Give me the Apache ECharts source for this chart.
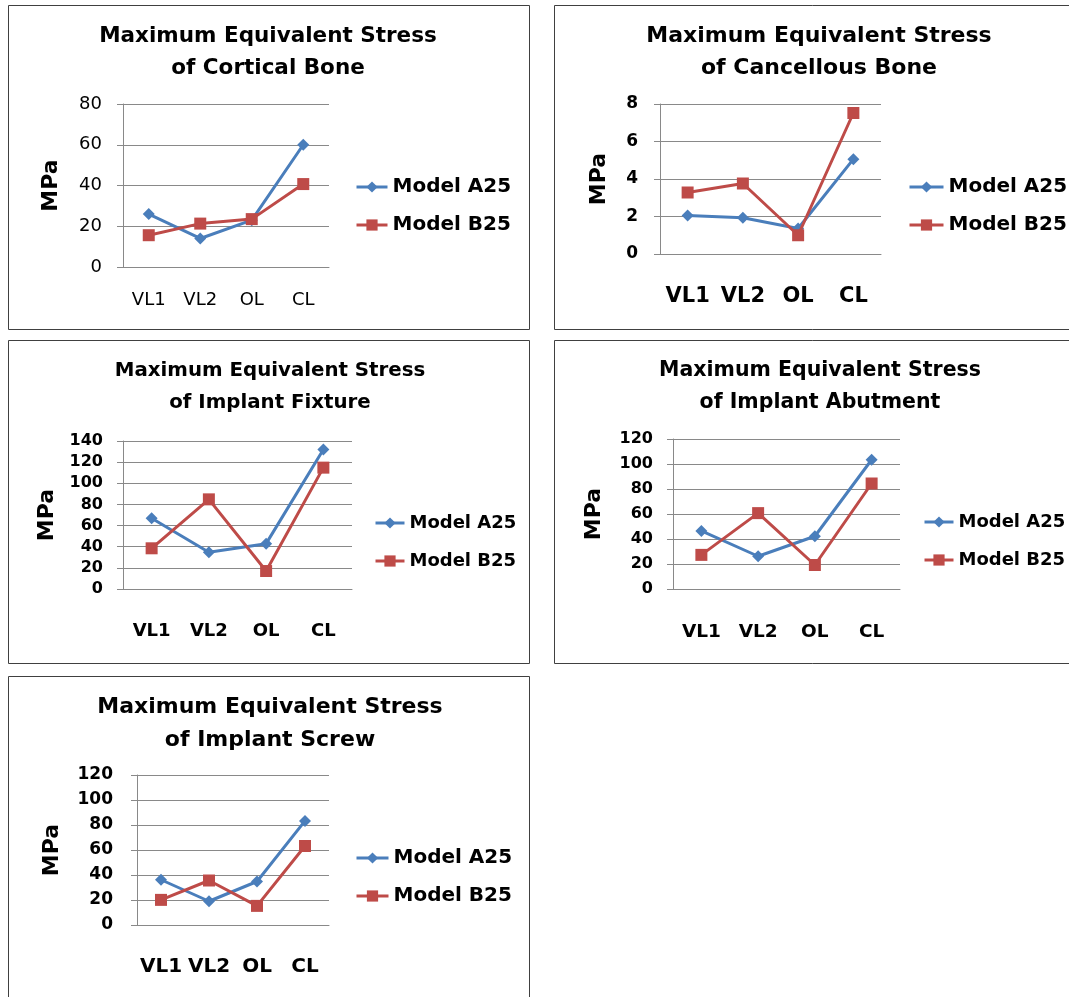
<!DOCTYPE html>
<html>
<head>
<meta charset="utf-8">
<script src="https://cdn.jsdelivr.net/npm/echarts@6/dist/echarts.min.js"></script>
<style>
html,body{margin:0;padding:0;background:#fff;}
#c{width:1069px;height:997px;}
</style>
</head>
<body>
<div id="c"></div>
<script>
const categories = ['VL1', 'VL2', 'OL', 'CL'];
const seriesNames = ['Model A25', 'Model B25'];

const corticalA25 = [26, 14, 23, 60];
const corticalB25 = [15.6, 21.3, 23.5, 40.7];
const cancellousA25 = [2.05, 1.93, 1.36, 5.06];
const cancellousB25 = [3.28, 3.76, 1.0, 7.52];
const fixtureA25 = [66.9, 34.7, 42.9, 132];
const fixtureB25 = [38.5, 84.8, 17, 114.8];
const abutmentA25 = [46.5, 26.2, 42.2, 103.4];
const abutmentB25 = [27.3, 60.7, 19.2, 84.4];
const screwA25 = [36.2, 19, 34.8, 83.3];
const screwB25 = [20.1, 35.6, 15.3, 63.2];

const titles = [
  'Maximum Equivalent Stress\nof Cortical Bone',
  'Maximum Equivalent Stress\nof Cancellous Bone',
  'Maximum Equivalent Stress\nof Implant Fixture',
  'Maximum Equivalent Stress\nof Implant Abutment',
  'Maximum Equivalent Stress\nof Implant Screw'
];
const yMax = [80, 8, 140, 120, 120];
const yInterval = [20, 2, 20, 20, 20];
const yAxisTitle = 'MPa';

const dataA = [corticalA25, cancellousA25, fixtureA25, abutmentA25, screwA25];
const dataB = [corticalB25, cancellousB25, fixtureB25, abutmentB25, screwB25];

const FONT = 'DejaVu Sans';
const BLUE = '#4A7EBB';
const RED = '#BE4B48';
const GRID = '#898989';

// layout per panel
const panels = [
  {box:[8.5,5.5,521,324], grid:[123,104,206,163], title:[268,20,21.5,32], tickBold:false, tickSize:18, catBold:false, catSize:18, catMargin:24, labMargin:21, nameGap:61, legend:[355,177,20,31]},
  {box:[554.5,5.5,600,324], grid:[660,104,221,150], title:[819,20,22,32], tickBold:true, tickSize:17, catBold:true, catSize:21, catMargin:32, labMargin:22, nameGap:50, legend:[908,177,20,34]},
  {box:[8.5,340.5,521,323], grid:[123,441,229,148], title:[270,355,19.8,32], tickBold:true, tickSize:16, catBold:true, catSize:18, catMargin:33, labMargin:20, nameGap:65, legend:[374,513,18,29]},
  {box:[554.5,340.5,600,323], grid:[673,439,227,150], title:[820,355,20.5,32], tickBold:true, tickSize:16, catBold:true, catSize:18.5, catMargin:34, labMargin:20, nameGap:68, legend:[923,512,18,29]},
  {box:[8.5,676.5,521,400], grid:[137,775,192,150], title:[270,691,22,33], tickBold:true, tickSize:17, catBold:true, catSize:20, catMargin:32, labMargin:24, nameGap:74, legend:[355,848,20,32]}
];

const grid = [], xAxis = [], yAxis = [], series = [], legend = [], graphic = [];
panels.forEach((p, i) => {
  graphic.push({type:'rect', shape:{x:p.box[0], y:p.box[1], width:p.box[2], height:p.box[3]}, style:{fill:'none', stroke:'#404040', lineWidth:1}, silent:true});
  graphic.push({type:'text', x:p.title[0], y:p.title[1], style:{text:titles[i], textAlign:'center', textVerticalAlign:'top', font:'bold ' + p.title[2] + 'px "' + FONT + '"', lineHeight:p.title[3], fill:'#000'}, silent:true});
  grid.push({left:p.grid[0], top:p.grid[1], width:p.grid[2], height:p.grid[3], containLabel:false});
  xAxis.push({
    type:'category', gridIndex:i, data:categories, boundaryGap:true,
    axisLine:{show:true, lineStyle:{color:GRID, width:1}},
    axisTick:{show:false},
    axisLabel:{margin:p.catMargin, color:'#000', fontFamily:FONT, fontSize:p.catSize, fontWeight:p.catBold ? 'bold' : 'normal', interval:0}
  });
  yAxis.push({
    type:'value', gridIndex:i, min:0, max:yMax[i], interval:yInterval[i],
    name:yAxisTitle, nameLocation:'middle', nameRotate:90, nameGap:p.nameGap,
    nameTextStyle:{fontFamily:FONT, fontSize:22, fontWeight:'bold', color:'#000'},
    axisLine:{show:true, lineStyle:{color:GRID, width:1}},
    axisTick:{show:true, length:6, inside:false, lineStyle:{color:GRID}},
    splitLine:{show:true, lineStyle:{color:GRID, width:1}},
    axisLabel:{margin:p.labMargin, color:'#000', fontFamily:FONT, fontSize:p.tickSize, fontWeight:p.tickBold ? 'bold' : 'normal'}
  });
  series.push({
    name:seriesNames[0], type:'line', xAxisIndex:i, yAxisIndex:i, data:dataA[i],
    symbol:'diamond', symbolSize:12, showAllSymbol:true,
    lineStyle:{color:BLUE, width:3}, itemStyle:{color:BLUE}, z:3, animation:false
  });
  series.push({
    name:seriesNames[1], type:'line', xAxisIndex:i, yAxisIndex:i, data:dataB[i],
    symbol:'rect', symbolSize:12, showAllSymbol:true,
    lineStyle:{color:RED, width:3}, itemStyle:{color:RED}, z:4, animation:false
  });
  legend.push({
    data:seriesNames, orient:'vertical', left:p.legend[0], top:p.legend[1],
    itemWidth:p.legend[3], itemHeight:14, itemGap:18, padding:0,
    selectedMode:false,
    lineStyle:{width:3},
    textStyle:{fontFamily:FONT, fontSize:p.legend[2], fontWeight:'bold', color:'#000', lineHeight:20}
  });
});

const chart = echarts.init(document.getElementById('c'), null, {renderer:'canvas'});
chart.setOption({
  animation:false,
  backgroundColor:'#fff',
  grid, xAxis, yAxis, series, legend, graphic
});
</script>
</body>
</html>
